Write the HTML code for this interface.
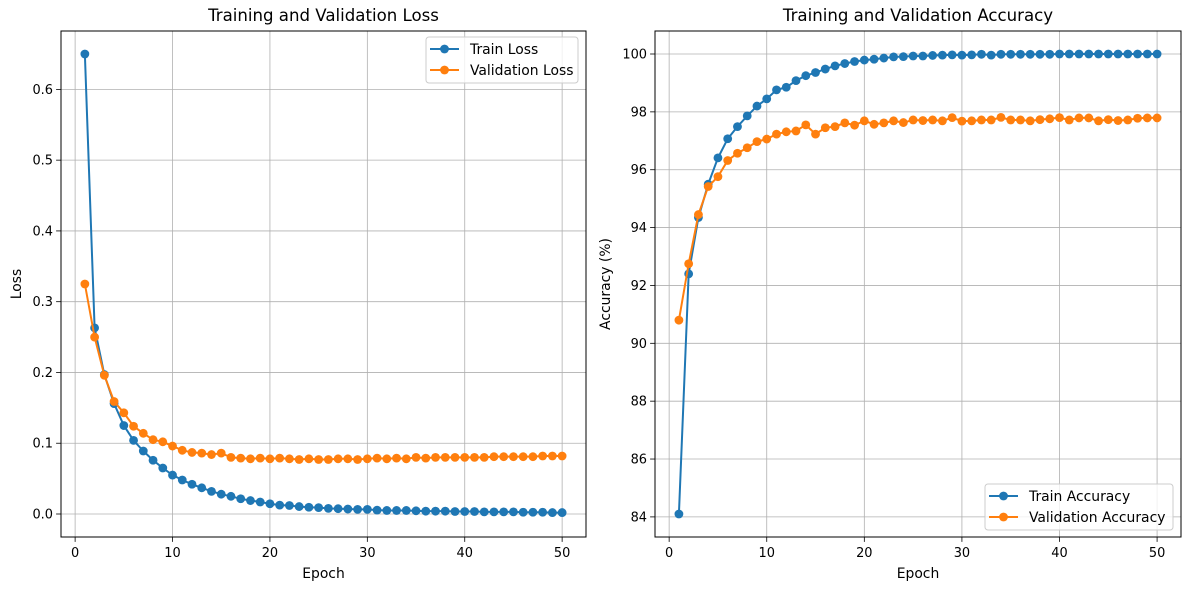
<!DOCTYPE html>
<html><head><meta charset="utf-8"><style>
body{margin:0;background:#fff}
svg{display:block;font-family:"DejaVu Sans","Liberation Sans",sans-serif}
</style></head><body>
<svg id="fig" width="1189" height="590" xmlns="http://www.w3.org/2000/svg"></svg>
<script>
const epochs = Array.from({length:50},(_,i)=>i+1);
const trainLoss = [0.65,0.263,0.197,0.156,0.125,0.104,0.089,0.076,0.065,0.055,0.048,0.042,0.037,0.032,0.028,0.025,0.0215,0.019,0.017,0.0145,0.0125,0.012,0.0105,0.0095,0.009,0.008,0.0075,0.007,0.0065,0.0065,0.0055,0.005,0.005,0.005,0.0045,0.004,0.004,0.004,0.0035,0.0035,0.0035,0.003,0.003,0.003,0.003,0.0025,0.0025,0.0025,0.002,0.002];
const valLoss = [0.325,0.25,0.196,0.159,0.143,0.124,0.114,0.105,0.102,0.096,0.090,0.087,0.086,0.084,0.086,0.080,0.079,0.078,0.079,0.078,0.079,0.078,0.077,0.078,0.077,0.077,0.078,0.078,0.077,0.078,0.079,0.078,0.079,0.078,0.080,0.079,0.080,0.080,0.080,0.080,0.080,0.080,0.081,0.081,0.081,0.081,0.081,0.082,0.082,0.082];
const trainAcc = [84.1,92.4,94.35,95.5,96.41,97.07,97.49,97.86,98.2,98.45,98.76,98.85,99.08,99.25,99.36,99.48,99.59,99.67,99.74,99.79,99.82,99.86,99.9,99.91,99.93,99.93,99.95,99.96,99.97,99.96,99.97,99.99,99.96,99.99,99.99,99.99,99.99,99.99,99.99,100,100,100,100,100,100,100,100,100,100,100];
const valAcc = [90.8,92.75,94.45,95.42,95.76,96.32,96.57,96.76,96.97,97.06,97.23,97.31,97.34,97.55,97.23,97.45,97.49,97.62,97.54,97.69,97.57,97.62,97.69,97.63,97.72,97.70,97.72,97.69,97.8,97.68,97.69,97.72,97.72,97.81,97.72,97.72,97.69,97.73,97.76,97.80,97.72,97.79,97.79,97.69,97.73,97.70,97.72,97.78,97.79,97.79];
const xTicks = [0,10,20,30,40,50];
const lossTicks = [0.0,0.1,0.2,0.3,0.4,0.5,0.6];
const accTicks = [84,86,88,90,92,94,96,98,100];

const NS="http://www.w3.org/2000/svg";
const svg=document.getElementById('fig');
function mk(tag,attrs,parent){const e=document.createElementNS(NS,tag);for(const k in attrs)e.setAttribute(k,attrs[k]);(parent||svg).appendChild(e);return e;}
const C1="#1f77b4",C2="#ff7f0e";
const FS=13.9;

function panel(opt){
  const g=mk('g',{});
  
  
  const L=opt.l,R=opt.r,T=31,B=537;
  const xmin=-1.45,xmax=52.45;
  const X=v=>L+(v-xmin)/(xmax-xmin)*(R-L);
  const Y=v=>B-(v-opt.ymin)/(opt.ymax-opt.ymin)*(B-T);
  xTicks.forEach(t=>{
    const ln=mk('line',{x1:X(t),x2:X(t),y1:T,y2:B,stroke:'#b0b0b0','stroke-width':0.8},g);
    
    
    mk('line',{x1:X(t),x2:X(t),y1:B,y2:B+4.9,stroke:'#000','stroke-width':0.8},g);
    const tx=mk('text',{x:X(t),y:B+20,'text-anchor':'middle','font-size':FS*0.93},g);
    tx.textContent=t;
    
    
  });
  opt.yticks.forEach(t=>{
    const ln=mk('line',{x1:L,x2:R,y1:Y(t),y2:Y(t),stroke:'#b0b0b0','stroke-width':0.8},g);
    
    
    mk('line',{x1:L-4.9,x2:L,y1:Y(t),y2:Y(t),stroke:'#000','stroke-width':0.8},g);
    const tx=mk('text',{x:L-8,y:Y(t)+4.5,'text-anchor':'end','font-size':FS*0.93},g);
    tx.textContent=opt.fmt(t);
    
    
  });
  opt.series.forEach(s=>{
    const sg=mk('g',{},g);
    
    
    mk('polyline',{points:epochs.map((e,i)=>X(e)+','+Y(s.data[i])).join(' '),fill:'none',stroke:s.c,'stroke-width':2},sg);
    epochs.forEach((e,i)=>{
      const c=mk('circle',{cx:X(e),cy:Y(s.data[i]),r:4.4,fill:s.c},sg);
      
      
    });
  });
  const fr=mk('rect',{x:L,y:T,width:R-L,height:B-T,fill:'none',stroke:'#000','stroke-width':1},g);
  
  
  const ti=mk('text',{x:(L+R)/2,y:T-10,'text-anchor':'middle','font-size':16.6},g);
  ti.textContent=opt.title;
  
  
  const xl=mk('text',{x:(L+R)/2,y:B+41,'text-anchor':'middle','font-size':FS},g);
  xl.textContent='Epoch';
  
  
  const yl=mk('text',{x:0,y:0,'text-anchor':'middle','font-size':FS,transform:`translate(${opt.ylx},${(T+B)/2}) rotate(-90)`},g);
  yl.textContent=opt.ylabel;
  
  
  const lg=mk('g',{},g);
  
  
  const lw=opt.legW, lx=R-8-lw, ly=opt.legTop;
  mk('rect',{x:lx,y:ly,width:lw,height:46,rx:3,fill:'#fff','fill-opacity':0.8,stroke:'#ccc','stroke-width':1},lg);
  opt.series.forEach((s,i)=>{
    const yy=ly+12+i*21;
    const en=mk('g',{},lg);
    
    
    mk('line',{x1:lx+4,x2:lx+33,y1:yy,y2:yy,stroke:s.c,'stroke-width':2},en);
    mk('circle',{cx:lx+18.5,cy:yy,r:4.4,fill:s.c},en);
    const t=mk('text',{x:lx+44,y:yy+5,'font-size':FS},en);
    t.textContent=s.label;
  });
}
panel({name:'loss-chart',l:61,r:586,ymin:-0.0325,ymax:0.6825,yticks:lossTicks,fmt:v=>v.toFixed(1),
  title:'Training and Validation Loss',ylabel:'Loss',ylx:21,legW:152,legTop:37,
  series:[{name:'train-loss-series',label:'Train Loss',data:trainLoss,c:C1},{name:'validation-loss-series',label:'Validation Loss',data:valLoss,c:C2}]});
panel({name:'accuracy-chart',l:655,r:1181,ymin:83.305,ymax:100.795,yticks:accTicks,fmt:v=>String(v),
  title:'Training and Validation Accuracy',ylabel:'Accuracy (%)',ylx:610,legW:188,legTop:484,
  series:[{name:'train-accuracy-series',label:'Train Accuracy',data:trainAcc,c:C1},{name:'validation-accuracy-series',label:'Validation Accuracy',data:valAcc,c:C2}]});
</script>
</body></html>
